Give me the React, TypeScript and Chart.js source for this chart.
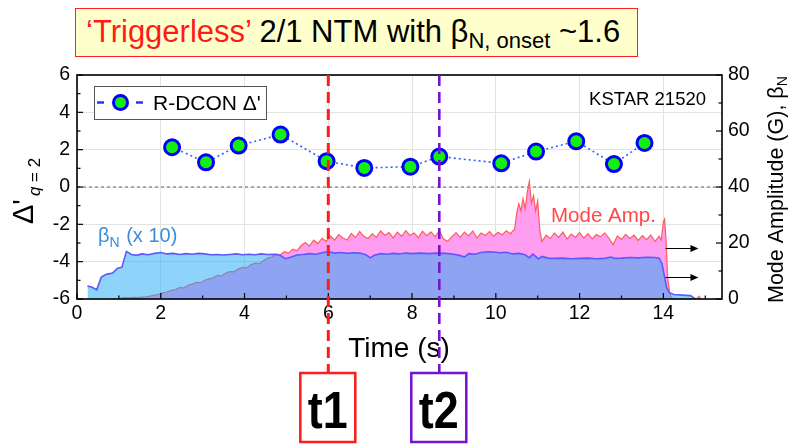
import { useEffect, useRef } from "react";
import { Chart, registerables } from "chart.js";

Chart.register(...registerables);

const FONT = '"Liberation Sans", Arial, Helvetica, sans-serif';

// R-DCON Δ' at the q = 2 surface
const rdconTime = [2.27, 3.08, 3.86, 4.86, 5.96, 6.86, 7.96, 8.65, 10.13, 10.96, 11.92, 12.82, 13.55];
const rdconDelta = [2.13, 1.32, 2.22, 2.81, 1.38, 1.02, 1.09, 1.63, 1.27, 1.9, 2.45, 1.23, 2.36];

// βN × 10 (right axis)
const betaTime = [
  0.25, 0.35, 0.47, 0.58, 0.7, 0.85, 0.97, 1.07, 1.18, 1.3, 1.42, 1.55, 1.7, 1.85, 2.0, 2.15, 2.3, 2.45,
  2.6, 2.75, 2.9, 3.05, 3.2, 3.35, 3.5, 3.65, 3.8, 3.95, 4.1, 4.25, 4.4, 4.55, 4.7, 4.85, 4.97, 5.1,
  5.25, 5.4, 5.55, 5.7, 5.85, 6.0, 6.15, 6.3, 6.45, 6.6, 6.75, 6.9, 7.0, 7.1, 7.25, 7.4, 7.55, 7.7,
  7.85, 8.0, 8.2, 8.4, 8.6, 8.8, 9.0, 9.15, 9.25, 9.35, 9.5, 9.65, 9.8, 9.95, 10.1, 10.25, 10.4, 10.55,
  10.7, 10.8, 10.88, 10.95, 11.02, 11.1, 11.25, 11.4, 11.6, 11.8, 12.0, 12.2, 12.4, 12.6, 12.75, 12.85,
  13.0, 13.2, 13.4, 13.6, 13.8, 13.9, 13.97, 14.02, 14.08, 14.15, 14.25, 14.45, 14.65, 14.72, 14.78,
];
const betaN10 = [
  4.6, 4.3, 3.3, 7.8, 8.8, 9.3, 11.0, 11.3, 17.0, 15.9, 15.6, 16.1, 15.8, 16.3, 16.6, 16.1, 16.3, 15.9,
  16.2, 16.0, 16.3, 16.1, 15.8, 15.9, 15.7, 15.9, 16.1, 15.8, 16.0, 15.8, 16.1, 15.9, 16.0, 15.6, 14.4, 14.9,
  15.7, 15.9, 16.2, 16.0, 16.5, 16.9, 16.4, 16.6, 16.3, 16.5, 16.4, 15.8, 14.7, 15.6, 16.2, 16.0, 16.3, 16.1,
  16.4, 16.2, 16.4, 16.2, 16.4, 16.3, 16.0, 15.5, 15.0, 16.2, 16.0, 16.6, 16.9, 16.8, 16.5, 16.7, 16.1, 16.3,
  15.8, 14.7, 16.0, 15.2, 14.3, 15.2, 14.6, 14.5, 14.6, 14.4, 14.5, 14.6, 14.4, 14.5, 15.0, 14.5,
  14.6, 14.8, 14.7, 14.9, 14.8, 14.6, 12.5, 8.5, 4.0, 2.2, 1.6, 1.4, 1.2, 0.5, 0,
];

// 2/1 mode amplitude in gauss (right axis)
const modeTime = [
  1.0, 1.05, 1.15, 1.25, 1.35, 1.45, 1.55, 1.65, 1.75, 1.85, 1.95, 2.05, 2.15, 2.25, 2.35, 2.45, 2.55, 2.65,
  2.75, 2.85, 2.95, 3.05, 3.15, 3.25, 3.35, 3.45, 3.55, 3.65, 3.75, 3.85, 3.95, 4.05, 4.15, 4.25, 4.35,
  4.45, 4.55, 4.65, 4.75, 4.85, 4.95, 5.05, 5.15, 5.25, 5.35, 5.45, 5.55, 5.65, 5.75, 5.85, 5.95, 6.05,
  6.15, 6.25, 6.35, 6.45, 6.55, 6.65, 6.75, 6.85, 6.95, 7.05, 7.15, 7.25, 7.35, 7.45, 7.55, 7.65, 7.75,
  7.85, 7.95, 8.05, 8.15, 8.25, 8.35, 8.45, 8.55, 8.65, 8.75, 8.85, 8.95, 9.05, 9.15, 9.25, 9.35, 9.45,
  9.55, 9.65, 9.75, 9.85, 9.95, 10.05, 10.15, 10.25, 10.35, 10.45, 10.5, 10.55, 10.6, 10.65, 10.7, 10.75,
  10.8, 10.85, 10.9, 10.95, 11.0, 11.05, 11.1, 11.2, 11.3, 11.4, 11.5, 11.6, 11.7, 11.8, 11.9, 12.0, 12.1,
  12.2, 12.3, 12.4, 12.5, 12.6, 12.7, 12.8, 12.9, 13.0, 13.1, 13.2, 13.3, 13.4, 13.5, 13.6, 13.7, 13.8,
  13.9, 13.95, 14.0, 14.03, 14.06, 14.1, 14.15, 14.2, 14.3, 14.8, 14.85, 14.9,
];
const modeAmp = [
  0, 0.3, 0.5, 0.4, 0.6, 0.5, 0.7, 0.8, 1.0, 1.4, 1.7, 2.2, 2.5, 3.1, 3.4, 4.1, 4.0, 4.9,
  5.3, 5.9, 5.8, 6.7, 7.2, 7.6, 8.4, 8.3, 9.2, 9.8, 9.7, 10.7, 11.3, 11.1, 12.2, 12.8, 12.6,
  13.7, 14.6, 15.0, 16.1, 15.7, 16.9, 16.4, 17.8, 17.2, 19.0, 20.2, 18.9, 21.0, 19.8, 21.7, 20.6, 22.5,
  21.0, 23.0, 21.8, 21.1, 23.4, 21.9, 24.1, 22.4, 21.6, 23.3, 22.0, 24.3, 22.8, 23.7, 21.8, 23.9, 22.4,
  24.4, 22.7, 23.6, 21.9, 24.2, 22.6, 24.0, 22.2, 24.5, 21.4, 20.6, 22.3, 23.7, 22.0, 23.9, 22.5, 24.3,
  21.8, 23.6, 22.7, 24.1, 22.4, 23.8, 22.9, 24.4, 23.3, 25.0, 30.8, 34.0, 31.5, 35.8, 32.2, 38.0,
  42.0, 34.2, 36.9, 31.4, 35.0, 24.6, 20.5, 22.8, 21.6, 23.5, 22.0, 23.9, 21.4, 23.2, 22.1, 23.7, 21.8,
  23.3, 21.5, 23.0, 22.2, 23.6, 21.7, 19.4, 22.5, 21.3, 23.1, 21.6, 22.8, 20.9, 22.6, 21.2, 22.9, 20.6,
  22.4, 21.0, 27.5, 28.5, 22.0, 8.0, 2.0, 0.3, 0, 0, 1.0, 0,
];

const xTicks = [0, 2, 4, 6, 8, 10, 12, 14];
const xMinor = [1, 3, 5, 7, 9, 11, 13, 15];
const deltaTicks = [-6, -4, -2, 0, 2, 4, 6];
const deltaMinor = [-5, -3, -1, 1, 3, 5];
const ampTicks = [0, 20, 40, 60, 80];
const ampMinor = [10, 30, 50, 70];

// marked times
const eventTimes = [6.0, 8.65];
const eventLabels = ["t1", "t2"];
const eventColors = ["#ff1c1c", "#7812d2"];

// right-axis pointers (gauss)
const arrowLevels = [18.2, 8.0];

const decorations = {
  id: "decorations",
  beforeDatasetsDraw(chart: any) {
    const { ctx, chartArea: a, scales } = chart;
    const y0 = scales.y.getPixelForValue(0);
    ctx.save();
    ctx.strokeStyle = "#8c8c8c";
    ctx.lineWidth = 1.4;
    ctx.setLineDash([3, 3]);
    ctx.beginPath();
    ctx.moveTo(a.left, y0);
    ctx.lineTo(a.right, y0);
    ctx.stroke();
    ctx.restore();
  },
  afterDatasetsDraw(chart: any) {
    const { ctx, chartArea: a, scales } = chart;
    const { x, y, y1 } = scales;
    ctx.save();
    ctx.strokeStyle = "#000";
    ctx.lineWidth = 1.2;
    const seg = (ax: number, ay: number, bx: number, by: number) => {
      ctx.beginPath();
      ctx.moveTo(ax, ay);
      ctx.lineTo(bx, by);
      ctx.stroke();
    };
    xTicks.forEach((v) => { const p = x.getPixelForValue(v); seg(p, a.bottom, p, a.bottom - 6); });
    xMinor.forEach((v) => { const p = x.getPixelForValue(v); seg(p, a.bottom, p, a.bottom - 3.5); });
    deltaTicks.forEach((v) => { const p = y.getPixelForValue(v); seg(a.left, p, a.left + 6, p); });
    deltaMinor.forEach((v) => { const p = y.getPixelForValue(v); seg(a.left, p, a.left + 3.5, p); });
    ampTicks.forEach((v) => { const p = y1.getPixelForValue(v); seg(a.right, p, a.right - 6, p); });
    ampMinor.forEach((v) => { const p = y1.getPixelForValue(v); seg(a.right, p, a.right - 3.5, p); });

    ctx.lineWidth = 1.6;
    ctx.strokeRect(a.left, a.top, a.right - a.left, a.bottom - a.top);

    // right-axis pointers
    ctx.lineWidth = 1;
    ctx.fillStyle = "#000";
    arrowLevels.forEach((v) => {
      const p = Math.round(y1.getPixelForValue(v)) + 0.5;
      const x0 = x.getPixelForValue(14.05);
      const x1 = x0 + 33;
      seg(x0, p, x1 - 6, p);
      ctx.beginPath();
      ctx.moveTo(x1, p);
      ctx.lineTo(x1 - 8, p - 3.5);
      ctx.lineTo(x1 - 8, p + 3.5);
      ctx.closePath();
      ctx.fill();
    });

    // in-plot labels
    ctx.textBaseline = "alphabetic";
    ctx.textAlign = "left";
    ctx.fillStyle = "#3d8ed6";
    ctx.font = `20px ${FONT}`;
    let tx = 98;
    ctx.fillText("β", tx, 242);
    tx += ctx.measureText("β").width;
    ctx.font = `14px ${FONT}`;
    ctx.fillText("N", tx, 247);
    tx += ctx.measureText("N").width;
    ctx.font = `20px ${FONT}`;
    ctx.fillText(" (x 10)", tx + 1, 242);

    ctx.fillStyle = "#ff4848";
    ctx.font = `20.5px ${FONT}`;
    ctx.fillText("Mode Amp.", 551, 221.5);

    ctx.fillStyle = "#000";
    ctx.font = `18.5px ${FONT}`;
    ctx.textAlign = "right";
    ctx.fillText("KSTAR 21520", 706, 105);
    ctx.restore();
  },
  afterDraw(chart: any) {
    const { ctx, chartArea: a, scales } = chart;
    const { x } = scales;
    ctx.save();

    // axis titles
    ctx.fillStyle = "#000";
    ctx.textBaseline = "alphabetic";
    ctx.textAlign = "center";
    ctx.font = `28px ${FONT}`;
    ctx.fillText("Time (s)", 399, 357);

    ctx.textAlign = "left";
    ctx.save();
    ctx.translate(33, 224);
    ctx.rotate(-Math.PI / 2);
    ctx.font = `29px ${FONT}`;
    ctx.fillText("Δ'", 0, 0);
    let w = ctx.measureText("Δ'").width;
    ctx.font = `italic 17px ${FONT}`;
    ctx.fillText("q", w + 3, 7);
    const wq = ctx.measureText("q").width;
    ctx.font = `17px ${FONT}`;
    ctx.fillText(" = 2", w + 3 + wq, 7);
    ctx.restore();

    ctx.save();
    ctx.translate(783, 303);
    ctx.rotate(-Math.PI / 2);
    ctx.font = `21.5px ${FONT}`;
    ctx.fillText("Mode Amplitude (G), β", 0, 0);
    w = ctx.measureText("Mode Amplitude (G), β").width;
    ctx.font = `14px ${FONT}`;
    ctx.fillText("N", w, 4);
    ctx.restore();

    // event markers with labelled boxes
    const boxTop = 373;
    const boxH = 69;
    const boxW = 55;
    eventTimes.forEach((t, i) => {
      const px = x.getPixelForValue(t);
      ctx.strokeStyle = eventColors[i];
      ctx.lineWidth = i === 0 ? 3 : 2.6;
      ctx.setLineDash([11, 6]);
      ctx.beginPath();
      ctx.moveTo(px, a.top);
      ctx.lineTo(px, boxTop);
      ctx.stroke();
      ctx.setLineDash([]);
      const bx = px - boxW / 2 - 0.5;
      ctx.fillStyle = "#fff";
      ctx.fillRect(bx, boxTop, boxW, boxH);
      ctx.lineWidth = 2.5;
      ctx.strokeRect(bx, boxTop, boxW, boxH);
      ctx.save();
      ctx.translate(bx + boxW / 2, boxTop + 55);
      ctx.scale(0.88, 1);
      ctx.fillStyle = "#000";
      ctx.textAlign = "center";
      ctx.font = `bold 51px ${FONT}`;
      ctx.fillText(eventLabels[i], 0, 0);
      ctx.restore();
    });

    // legend
    const lx = 94, ly = 86, lw = 172, lh = 33;
    ctx.fillStyle = "#fff";
    ctx.fillRect(lx, ly, lw, lh);
    ctx.strokeStyle = "#555";
    ctx.lineWidth = 1;
    ctx.strokeRect(lx + 0.5, ly + 0.5, lw, lh);
    const cy = ly + lh / 2;
    ctx.strokeStyle = "#2038ff";
    ctx.lineWidth = 2.5;
    ctx.beginPath();
    ctx.moveTo(97, cy); ctx.lineTo(104, cy);
    ctx.moveTo(136, cy); ctx.lineTo(143, cy);
    ctx.stroke();
    ctx.beginPath();
    ctx.arc(120.5, cy, 7, 0, Math.PI * 2);
    ctx.fillStyle = "#12f012";
    ctx.fill();
    ctx.lineWidth = 3;
    ctx.strokeStyle = "#0000ff";
    ctx.stroke();
    ctx.fillStyle = "#000";
    ctx.font = `21px ${FONT}`;
    ctx.textAlign = "left";
    ctx.fillText("R-DCON Δ'", 153, cy + 7.5);

    ctx.restore();
  },
};

export default function App() {
  const canvasRef = useRef<HTMLCanvasElement | null>(null);

  useEffect(() => {
    const canvas = canvasRef.current;
    if (!canvas) return;
    const tickFont = { family: FONT, size: 19.5 };
    const chart = new Chart(canvas, {
      type: "line",
      data: {
        datasets: [
          {
            label: "R-DCON Δ'",
            data: rdconTime.map((t, i) => ({ x: t, y: rdconDelta[i] })),
            yAxisID: "y",
            borderColor: "#3a5cff",
            borderWidth: 1.6,
            borderDash: [2, 3],
            pointRadius: 7.5,
            pointBorderWidth: 3,
            pointBackgroundColor: "#12f012",
            pointBorderColor: "#0000ff",
            fill: false,
          },
          {
            label: "βN (x 10)",
            data: betaTime.map((t, i) => ({ x: t, y: betaN10[i] })),
            yAxisID: "y1",
            borderColor: "#5a5aff",
            borderWidth: 1.6,
            backgroundColor: "rgba(36,170,243,0.515)",
            pointRadius: 0,
            fill: "origin",
          },
          {
            label: "Mode Amp.",
            data: modeTime.map((t, i) => ({ x: t, y: modeAmp[i] })),
            yAxisID: "y1",
            borderColor: "#ff5c5c",
            borderWidth: 1.2,
            backgroundColor: "#ff9ef0",
            pointRadius: 0,
            fill: "origin",
          },
        ],
      },
      options: {
        animation: false,
        responsive: true,
        maintainAspectRatio: false,
        events: [],
        layout: { padding: { top: 75, left: 0, right: 0, bottom: 0 } },
        plugins: { legend: { display: false }, tooltip: { enabled: false } },
        scales: {
          x: {
            type: "linear",
            min: 0,
            max: 15.4,
            afterBuildTicks: (s: any) => { s.ticks = xTicks.map((v) => ({ value: v })); },
            afterFit: (s: any) => { s.height = 145; },
            ticks: { font: tickFont, color: "#000", padding: 3, maxRotation: 0, autoSkip: false },
            grid: { color: "#e3e3e3", lineWidth: 1, drawTicks: false },
            border: { display: false },
          },
          y: {
            position: "left",
            min: -6,
            max: 6,
            afterBuildTicks: (s: any) => { s.ticks = deltaTicks.map((v) => ({ value: v })); },
            afterFit: (s: any) => { s.width = 77; },
            ticks: { font: tickFont, color: "#000", padding: 7 },
            grid: { color: "#e3e3e3", lineWidth: 1, drawTicks: false },
            border: { display: false },
          },
          y1: {
            position: "right",
            min: 0,
            max: 80,
            afterBuildTicks: (s: any) => { s.ticks = ampTicks.map((v) => ({ value: v })); },
            afterFit: (s: any) => { s.width = 70; },
            ticks: { font: tickFont, color: "#000", padding: 6 },
            grid: { display: false, drawTicks: false },
            border: { display: false },
          },
        },
      },
      plugins: [decorations],
    });
    return () => chart.destroy();
  }, []);

  return (
    <div style={{ position: "fixed", left: 0, top: 0, width: 792, height: 444, background: "#fff" }}>
      <div
        style={{
          position: "absolute",
          left: 75,
          top: 8,
          width: 563,
          height: 49,
          boxSizing: "border-box",
          background: "#ffffcc",
          border: "1.5px solid #ff2020",
          fontFamily: FONT,
          fontSize: 31,
          lineHeight: "46px",
          paddingLeft: 10,
          whiteSpace: "nowrap",
          color: "#000",
        }}
      >
        <span style={{ color: "#ff1a1a" }}>‘Triggerless’</span> 2/1 NTM with β
        <span style={{ fontSize: 22, position: "relative", top: 6 }}>N, onset</span> ~1.6
      </div>
      <div style={{ position: "absolute", left: 0, top: 0, width: 792, height: 444 }}>
        <canvas ref={canvasRef} />
      </div>
    </div>
  );
}
